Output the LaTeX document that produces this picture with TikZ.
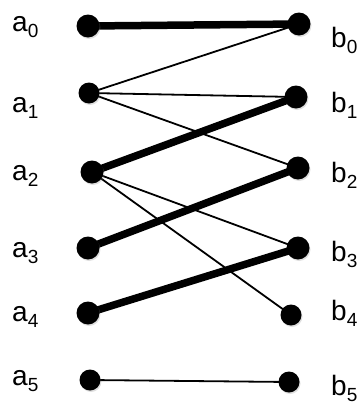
\documentclass[tikz,border=0pt]{standalone}
\usepackage{fontspec}
\setmainfont{Liberation Sans}
\usetikzlibrary{shadows}
\tikzset{
  dot/.style={circle,fill=black,inner sep=0pt,minimum size=23pt,
    drop shadow={shadow xshift=1pt,shadow yshift=-1.5pt,opacity=0.25}},
  sdot/.style={dot,minimum size=21pt},
  lbl/.style={font=\fontsize{28pt}{28pt}\selectfont,inner sep=0pt,anchor=base west},
  thick edge/.style={line width=7.5pt},
  thin edge/.style={line width=1.8pt}
}
\newcommand{\lab}[2]{#1\raisebox{-6pt}{\fontsize{19pt}{19pt}\selectfont #2}}
\begin{document}
\begin{tikzpicture}[x=1pt,y=-1pt]
\useasboundingbox (0,0) rectangle (362,405);
% edges first
\coordinate (pa0) at (88,26);
\coordinate (pa1) at (89,93);
\coordinate (pa2) at (92,172);
\coordinate (pa3) at (88,248);
\coordinate (pa4) at (88,313);
\coordinate (pa5) at (90,380);
\coordinate (pb0) at (299,24);
\coordinate (pb1) at (296,97);
\coordinate (pb2) at (298,168);
\coordinate (pb3) at (298,248);
\coordinate (pb4) at (291,315);
\coordinate (pb5) at (289,382);
\draw[thick edge] (pa0) -- (pb0);
\draw[thick edge] (pa2) -- (pb1);
\draw[thick edge] (pa3) -- (pb2);
\draw[thick edge] (pa4) -- (pb3);
\draw[thin edge] (pa1) -- (pb0);
\draw[thin edge] (pa1) -- (pb1);
\draw[thin edge] (pa1) -- (pb2);
\draw[thin edge] (pa2) -- (pb3);
\draw[thin edge] (pa2) -- (pb4);
\draw[thin edge] (pa5) -- (pb5);
% dots
\node[dot] (a0) at (pa0) {};
\node[sdot] (a1) at (pa1) {};
\node[dot] (a2) at (pa2) {};
\node[dot] (a3) at (pa3) {};
\node[dot] (a4) at (pa4) {};
\node[sdot] (a5) at (pa5) {};
\node[dot] (b0) at (pb0) {};
\node[dot] (b1) at (pb1) {};
\node[dot] (b2) at (pb2) {};
\node[dot] (b3) at (pb3) {};
\node[sdot] (b4) at (pb4) {};
\node[sdot] (b5) at (pb5) {};
% labels
\node[lbl] (la0) at (12,31) {\lab{a}{0}};
\node[lbl] (la1) at (12,112) {\lab{a}{1}};
\node[lbl] (la2) at (12,180) {\lab{a}{2}};
\node[lbl] (la3) at (12,257) {\lab{a}{3}};
\node[lbl] (la4) at (12,321) {\lab{a}{4}};
\node[lbl] (la5) at (12,385) {\lab{a}{5}};
\node[lbl] (lb0) at (331,47) {\lab{b}{0}};
\node[lbl] (lb1) at (331,112) {\lab{b}{1}};
\node[lbl] (lb2) at (331,182) {\lab{b}{2}};
\node[lbl] (lb3) at (331,261) {\lab{b}{3}};
\node[lbl] (lb4) at (331,320) {\lab{b}{4}};
\node[lbl] (lb5) at (331,395) {\lab{b}{5}};
\end{tikzpicture}
\end{document}
